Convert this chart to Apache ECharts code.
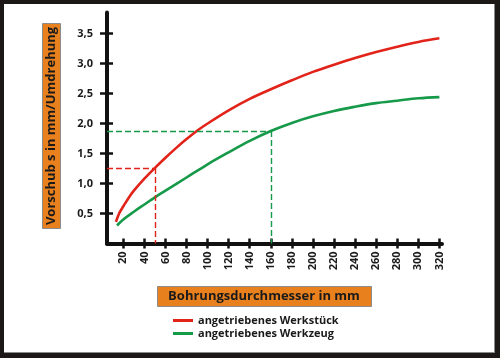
<!DOCTYPE html>
<html>
<head>
<meta charset="utf-8">
<script src="https://cdn.jsdelivr.net/npm/echarts@6/dist/echarts.min.js"></script>
<style>
html,body{margin:0;padding:0;background:#1c1818;}
#frame{position:absolute;left:4px;top:4px;width:490px;height:348px;background:#fff;border-right:1px solid #8a8a8a;border-bottom:1px solid #8a8a8a;}
#chart{position:absolute;left:0;top:0;width:500px;height:358px;}
</style>
</head>
<body>
<div id="frame"></div>
<div id="chart"></div>
<script>
// ---- data ----
const xTicks = [20,40,60,80,100,120,140,160,180,200,220,240,260,280,300,320];
const yTicks = [0.5,1.0,1.5,2.0,2.5,3.0,3.5];
const seriesNames = ['angetriebenes Werkstück','angetriebenes Werkzeug'];
const werkstueck = [[13,0.36],[16,0.5],[20,0.62],[25,0.76],[30,0.88],[40,1.08],[50,1.26],[60,1.43],[70,1.59],[80,1.74],[90,1.88],[100,2.0],[120,2.22],[140,2.41],[160,2.57],[180,2.72],[200,2.86],[220,2.98],[240,3.09],[260,3.19],[280,3.28],[300,3.36],[320,3.42]];
const werkzeug = [[14,0.3],[20,0.4],[30,0.53],[40,0.65],[50,0.77],[60,0.88],[80,1.1],[100,1.32],[120,1.52],[140,1.71],[160,1.875],[180,2.01],[200,2.12],[220,2.21],[240,2.28],[260,2.34],[280,2.38],[300,2.42],[320,2.44]];
const refRed = [50,1.26];
const refGreen = [160,1.875];
const xTitle = 'Bohrungsdurchmesser in mm';
const yTitle = 'Vorschub s in mm/Umdrehung';

const FONT = '"Open Sans", "DejaVu Sans", sans-serif';
const RED = '#e2231a', GREEN = '#169a4a', ORANGE = '#e8801e', INK = '#1a1a1a';
const X_MIN = 4.5, X_MAX = 322.5, Y_MIN = 0, Y_MAX = 3.85;

function refLines(pt){
  return [
    [{coord:[X_MIN, pt[1]]},{coord:[pt[0], pt[1]]}],
    [{coord:[pt[0], pt[1]]},{coord:[pt[0], Y_MIN]}]
  ];
}

const chart = echarts.init(document.getElementById('chart'), null, {renderer:'canvas'});
const baseX = {type:'value', min:X_MIN, max:X_MAX, gridIndex:0, position:'bottom', splitLine:{show:false}};
const baseY = {type:'value', min:Y_MIN, max:Y_MAX, gridIndex:0, position:'left', splitLine:{show:false}};
chart.setOption({
  animation:false,
  backgroundColor:'transparent',
  grid:{left:107, top:12.5, width:335, height:231, containLabel:false},
  xAxis:[
    Object.assign({}, baseX, {
      axisLine:{show:true, onZero:false, lineStyle:{color:'#111', width:4}},
      axisTick:{show:true, inside:false, length:5, customValues:xTicks, lineStyle:{color:'#111', width:2.5}},
      axisLabel:{show:true, customValues:xTicks, rotate:90, margin:8, color:INK, fontFamily:FONT, fontWeight:'bold', fontSize:11}
    }),
    Object.assign({}, baseX, {
      axisLine:{show:false},
      axisTick:{show:true, inside:true, length:5, customValues:xTicks, lineStyle:{color:'#111', width:2.5}},
      axisLabel:{show:false}
    })
  ],
  yAxis:[
    Object.assign({}, baseY, {
      axisLine:{show:true, onZero:false, lineStyle:{color:'#111', width:4}},
      axisTick:{show:true, inside:false, length:7, customValues:yTicks, lineStyle:{color:'#111', width:2.5}},
      axisLabel:{show:true, customValues:yTicks, margin:14, color:INK, fontFamily:FONT, fontWeight:'bold', fontSize:11,
        formatter:v=>v.toFixed(1).replace('.',',')}
    }),
    Object.assign({}, baseY, {
      axisLine:{show:false},
      axisTick:{show:true, inside:true, length:6, customValues:yTicks, lineStyle:{color:'#111', width:2.5}},
      axisLabel:{show:false}
    })
  ],
  legend:{
    orient:'vertical', left:173, top:314, padding:0, itemWidth:20, itemHeight:3, itemGap:0, icon:'rect',
    textStyle:{fontFamily:FONT, fontWeight:'bold', fontSize:11, color:INK, lineHeight:13, padding:[0,0,0,0]},
    data:[{name:seriesNames[0], itemStyle:{color:RED}},{name:seriesNames[1], itemStyle:{color:GREEN}}]
  },
  series:[
    {name:seriesNames[0], type:'line', data:werkstueck, smooth:0.35, showSymbol:false, symbol:'none', z:3,
      lineStyle:{color:RED, width:2.6}, itemStyle:{color:RED},
      markLine:{silent:true, symbol:'none', label:{show:false}, lineStyle:{color:RED, type:[6,3], width:1.4}, data:refLines(refRed)}},
    {name:seriesNames[1], type:'line', data:werkzeug, smooth:0.35, showSymbol:false, symbol:'none', z:3,
      lineStyle:{color:GREEN, width:2.6}, itemStyle:{color:GREEN},
      markLine:{silent:true, symbol:'none', label:{show:false}, lineStyle:{color:GREEN, type:[6,3], width:1.4}, data:refLines(refGreen)}}
  ],
  graphic:[
    {type:'rect', left:157, top:286, shape:{width:214, height:20}, style:{fill:ORANGE, stroke:'#8c8c8c', lineWidth:1}, z:1},
    {type:'text', x:264, y:296, style:{text:xTitle, fill:INK, font:'bold 13px '+FONT, align:'center', verticalAlign:'middle'}, z:2},
    {type:'rect', left:42, top:23, shape:{width:18, height:205}, style:{fill:ORANGE, stroke:'#8c8c8c', lineWidth:1}, z:1},
    {type:'text', x:51, y:126, rotation:Math.PI/2, style:{text:yTitle, fill:INK, font:'bold 13px '+FONT, align:'center', verticalAlign:'middle'}, z:2}
  ]
});
</script>
</body>
</html>
